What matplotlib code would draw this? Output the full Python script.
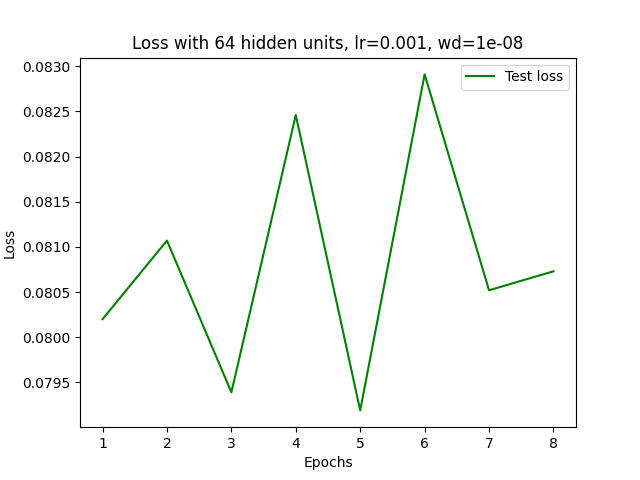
import matplotlib
matplotlib.use('Agg')
import matplotlib.pyplot as plt

epochs = [1, 2, 3, 4, 5, 6, 7, 8]
test_loss = [0.08020, 0.08107, 0.07939, 0.08246, 0.07919, 0.08291, 0.08052, 0.08073]

fig, ax = plt.subplots(figsize=(6.4, 4.8), dpi=100)
ax.plot(epochs, test_loss, color='green', label='Test loss')
ax.set_xlabel('Epochs')
ax.set_ylabel('Loss')
ax.set_title('Loss with 64 hidden units, lr=0.001, wd=1e-08')
ax.legend()
plt.savefig('out.png')
